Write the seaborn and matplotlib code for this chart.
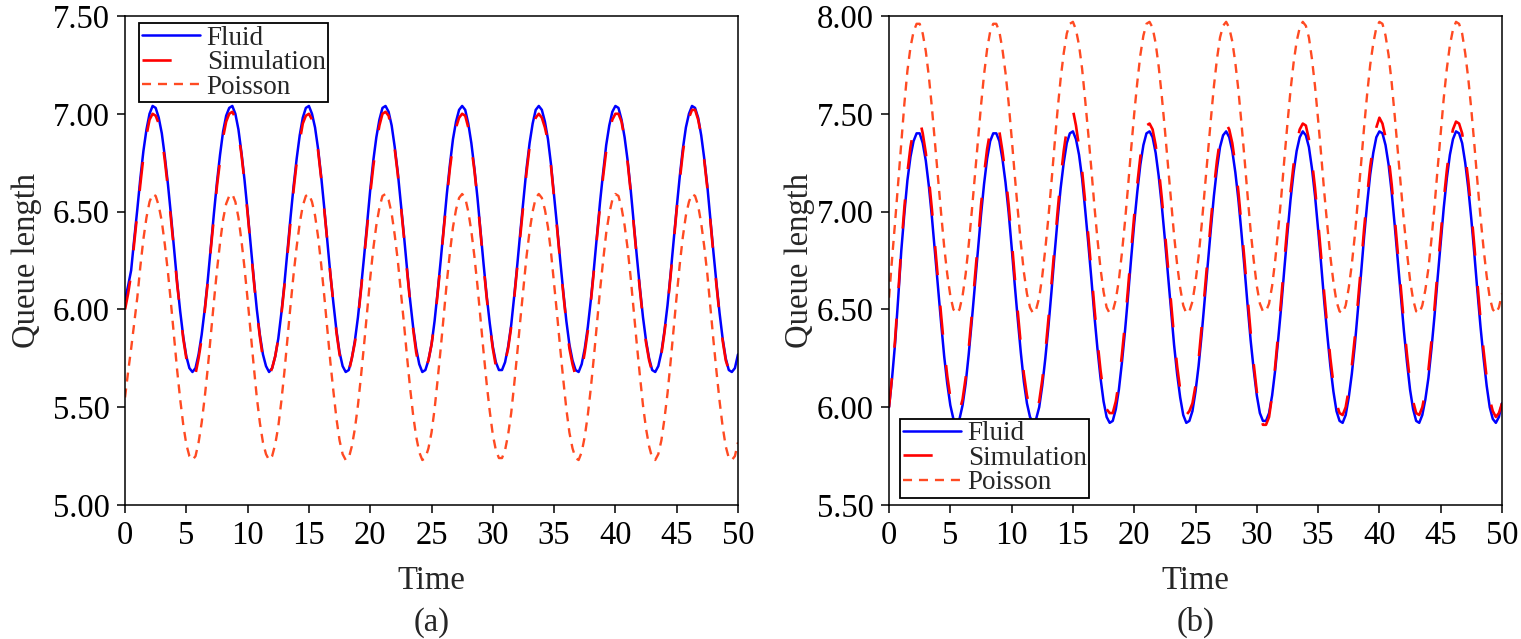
import numpy as np
import matplotlib
matplotlib.use("Agg")
import matplotlib.pyplot as plt
import seaborn as sns

sns.set_theme(style='ticks')
plt.rcParams['font.family'] = ['Liberation Serif', 'DejaVu Serif']
plt.rcParams['lines.scale_dashes'] = False

# sample times (every 0.25 time units)
time = np.linspace(0, 50, 201)

# panel (a)
fluid_a = [6.05, 6.12, 6.20, 6.36, 6.51, 6.67, 6.81, 6.92, 7.00, 7.04,
           7.03, 6.98, 6.90, 6.78, 6.64, 6.48, 6.31, 6.14, 5.99, 5.86,
           5.76, 5.70, 5.68, 5.70, 5.77, 5.87, 6.00, 6.15, 6.32, 6.49,
           6.65, 6.79, 6.91, 6.99, 7.03, 7.04, 7.00, 6.92, 6.80, 6.66,
           6.50, 6.33, 6.16, 6.00, 5.87, 5.77, 5.71, 5.68, 5.70, 5.76,
           5.85, 5.98, 6.13, 6.30, 6.47, 6.63, 6.77, 6.89, 6.98, 7.03,
           7.04, 7.00, 6.93, 6.82, 6.68, 6.52, 6.35, 6.18, 6.03, 5.89,
           5.78, 5.71, 5.68, 5.69, 5.75, 5.84, 5.96, 6.11, 6.27, 6.44,
           6.61, 6.76, 6.88, 6.97, 7.03, 7.04, 7.01, 6.94, 6.83, 6.70,
           6.54, 6.38, 6.21, 6.05, 5.91, 5.80, 5.72, 5.68, 5.69, 5.74,
           5.82, 5.94, 6.09, 6.25, 6.42, 6.59, 6.74, 6.87, 6.96, 7.02,
           7.04, 7.02, 6.95, 6.85, 6.72, 6.57, 6.40, 6.23, 6.07, 5.93,
           5.81, 5.73, 5.69, 5.69, 5.73, 5.81, 5.92, 6.07, 6.23, 6.40,
           6.56, 6.72, 6.85, 6.95, 7.02, 7.04, 7.02, 6.96, 6.87, 6.74,
           6.58, 6.42, 6.25, 6.09, 5.94, 5.82, 5.74, 5.69, 5.68, 5.72,
           5.80, 5.91, 6.05, 6.21, 6.38, 6.55, 6.70, 6.84, 6.94, 7.01,
           7.04, 7.03, 6.97, 6.88, 6.76, 6.61, 6.44, 6.27, 6.11, 5.96,
           5.84, 5.75, 5.69, 5.68, 5.71, 5.78, 5.89, 6.02, 6.18, 6.35,
           6.52, 6.68, 6.82, 6.93, 7.00, 7.04, 7.03, 6.98, 6.89, 6.77,
           6.63, 6.46, 6.29, 6.13, 5.98, 5.85, 5.75, 5.69, 5.68, 5.70,
           5.77]
sim_a = [6.00, 6.08, 6.18, 6.34, 6.49, 6.64, 6.78, 6.89, 6.97, 7.00,
         6.99, 6.95, 6.88, 6.76, 6.62, 6.46, 6.30, 6.13, 5.99, 5.85,
         5.75, 5.67, 5.64, 5.67, 5.75, 5.85, 5.99, 6.14, 6.31, 6.47,
         6.63, 6.76, 6.88, 6.96, 7.00, 7.01, 6.98, 6.90, 6.79, 6.65,
         6.49, 6.32, 6.15, 5.99, 5.86, 5.75, 5.68, 5.66, 5.70, 5.76,
         5.85, 5.97, 6.12, 6.28, 6.45, 6.61, 6.75, 6.86, 6.95, 6.99,
         7.00, 6.97, 6.92, 6.81, 6.67, 6.51, 6.35, 6.18, 6.03, 5.88,
         5.77, 5.69, 5.66, 5.68, 5.75, 5.83, 5.95, 6.10, 6.26, 6.42,
         6.59, 6.73, 6.85, 6.94, 7.00, 7.01, 6.99, 6.92, 6.82, 6.69,
         6.53, 6.37, 6.20, 6.04, 5.90, 5.78, 5.70, 5.67, 5.69, 5.74,
         5.82, 5.93, 6.08, 6.24, 6.41, 6.57, 6.72, 6.84, 6.93, 6.98,
         7.00, 6.99, 6.93, 6.83, 6.71, 6.56, 6.39, 6.22, 6.06, 5.92,
         5.80, 5.71, 5.67, 5.68, 5.73, 5.80, 5.91, 6.06, 6.22, 6.38,
         6.54, 6.70, 6.83, 6.92, 6.98, 7.00, 6.98, 6.93, 6.86, 6.73,
         6.57, 6.41, 6.24, 6.08, 5.93, 5.80, 5.72, 5.66, 5.64, 5.69,
         5.78, 5.89, 6.04, 6.20, 6.37, 6.53, 6.68, 6.81, 6.91, 6.97,
         7.00, 7.00, 6.96, 6.87, 6.75, 6.60, 6.43, 6.26, 6.10, 5.95,
         5.83, 5.74, 5.68, 5.67, 5.71, 5.77, 5.88, 6.01, 6.17, 6.34,
         6.51, 6.66, 6.80, 6.91, 6.98, 7.02, 7.02, 6.97, 6.89, 6.76,
         6.62, 6.45, 6.28, 6.12, 5.97, 5.84, 5.74, 5.69, 5.70, 5.71,
         5.77]
poisson_a = [5.55, 5.68, 5.80, 5.93, 6.06, 6.22, 6.36, 6.47, 6.55, 6.59,
             6.58, 6.53, 6.45, 6.33, 6.19, 6.03, 5.86, 5.69, 5.54, 5.41,
             5.31, 5.25, 5.23, 5.25, 5.32, 5.42, 5.55, 5.70, 5.87, 6.04,
             6.20, 6.34, 6.46, 6.54, 6.58, 6.59, 6.55, 6.47, 6.35, 6.21,
             6.05, 5.88, 5.71, 5.55, 5.42, 5.32, 5.26, 5.23, 5.25, 5.31,
             5.40, 5.53, 5.68, 5.85, 6.02, 6.18, 6.32, 6.44, 6.53, 6.58,
             6.59, 6.55, 6.48, 6.37, 6.23, 6.07, 5.90, 5.73, 5.58, 5.44,
             5.33, 5.26, 5.23, 5.24, 5.30, 5.39, 5.51, 5.66, 5.82, 5.99,
             6.16, 6.31, 6.43, 6.52, 6.58, 6.59, 6.56, 6.49, 6.38, 6.25,
             6.09, 5.93, 5.76, 5.60, 5.46, 5.35, 5.27, 5.23, 5.24, 5.29,
             5.37, 5.49, 5.64, 5.80, 5.97, 6.14, 6.29, 6.42, 6.51, 6.57,
             6.59, 6.57, 6.50, 6.40, 6.27, 6.12, 5.95, 5.78, 5.62, 5.48,
             5.36, 5.28, 5.24, 5.24, 5.28, 5.36, 5.47, 5.62, 5.78, 5.95,
             6.11, 6.27, 6.40, 6.50, 6.57, 6.59, 6.57, 6.51, 6.42, 6.29,
             6.13, 5.97, 5.80, 5.64, 5.49, 5.37, 5.29, 5.24, 5.23, 5.27,
             5.35, 5.46, 5.60, 5.76, 5.93, 6.10, 6.25, 6.39, 6.49, 6.56,
             6.59, 6.58, 6.52, 6.43, 6.31, 6.16, 5.99, 5.82, 5.66, 5.51,
             5.39, 5.30, 5.24, 5.23, 5.26, 5.33, 5.44, 5.57, 5.73, 5.90,
             6.07, 6.23, 6.37, 6.48, 6.55, 6.59, 6.58, 6.53, 6.44, 6.32,
             6.18, 6.01, 5.84, 5.68, 5.53, 5.40, 5.30, 5.24, 5.23, 5.25,
             5.32]

# panel (b)
fluid_b = [6.00, 6.15, 6.33, 6.56, 6.80, 6.99, 7.16, 7.28, 7.36, 7.40,
           7.40, 7.35, 7.26, 7.13, 6.97, 6.79, 6.61, 6.43, 6.26, 6.12,
           6.01, 5.94, 5.92, 5.94, 6.01, 6.12, 6.27, 6.44, 6.62, 6.80,
           6.98, 7.14, 7.27, 7.36, 7.40, 7.40, 7.36, 7.27, 7.15, 7.00,
           6.82, 6.63, 6.45, 6.28, 6.13, 6.02, 5.95, 5.92, 5.94, 6.00,
           6.11, 6.25, 6.41, 6.59, 6.78, 6.96, 7.12, 7.25, 7.35, 7.40,
           7.41, 7.37, 7.29, 7.17, 7.01, 6.84, 6.66, 6.47, 6.30, 6.15,
           6.03, 5.95, 5.92, 5.93, 5.99, 6.09, 6.23, 6.39, 6.57, 6.76,
           6.94, 7.10, 7.24, 7.34, 7.40, 7.41, 7.38, 7.30, 7.18, 7.03,
           6.86, 6.68, 6.50, 6.32, 6.17, 6.05, 5.96, 5.92, 5.93, 5.98,
           6.08, 6.21, 6.37, 6.55, 6.73, 6.91, 7.08, 7.22, 7.33, 7.39,
           7.41, 7.38, 7.31, 7.20, 7.06, 6.89, 6.71, 6.52, 6.34, 6.19,
           6.06, 5.97, 5.93, 5.93, 5.97, 6.06, 6.19, 6.35, 6.52, 6.71,
           6.89, 7.06, 7.20, 7.31, 7.38, 7.41, 7.39, 7.33, 7.22, 7.08,
           6.91, 6.73, 6.54, 6.37, 6.21, 6.08, 5.98, 5.93, 5.92, 5.96,
           6.05, 6.17, 6.32, 6.50, 6.68, 6.87, 7.04, 7.19, 7.30, 7.38,
           7.41, 7.40, 7.34, 7.24, 7.10, 6.93, 6.75, 6.57, 6.39, 6.23,
           6.09, 5.99, 5.93, 5.92, 5.96, 6.04, 6.15, 6.30, 6.47, 6.66,
           6.84, 7.02, 7.17, 7.29, 7.37, 7.41, 7.40, 7.35, 7.25, 7.12,
           6.96, 6.78, 6.59, 6.41, 6.25, 6.11, 6.00, 5.94, 5.92, 5.95,
           6.02]
sim_b = [6.00, 6.16, 6.35, 6.58, 6.82, 7.02, 7.20, 7.33, 7.42, 7.44,
         7.47, 7.40, 7.30, 7.17, 7.01, 6.83, 6.65, 6.47, 6.30, 6.16,
         6.05, 5.99, 5.97, 5.98, 6.04, 6.15, 6.30, 6.47, 6.66, 6.84,
         7.03, 7.19, 7.32, 7.41, 7.46, 7.45, 7.41, 7.31, 7.19, 7.04,
         6.86, 6.67, 6.49, 6.32, 6.17, 6.06, 5.99, 5.96, 5.98, 6.03,
         6.14, 6.28, 6.45, 6.63, 6.82, 7.00, 7.17, 7.31, 7.42, 7.47,
         7.52, 7.44, 7.33, 7.21, 7.05, 6.88, 6.70, 6.51, 6.34, 6.19,
         6.07, 5.99, 5.97, 5.97, 6.03, 6.13, 6.27, 6.43, 6.61, 6.80,
         6.98, 7.14, 7.28, 7.38, 7.44, 7.45, 7.42, 7.34, 7.22, 7.07,
         6.90, 6.72, 6.54, 6.36, 6.21, 6.09, 6.00, 5.96, 5.98, 6.02,
         6.11, 6.24, 6.41, 6.59, 6.77, 6.95, 7.12, 7.26, 7.37, 7.43,
         7.45, 7.42, 7.35, 7.24, 7.10, 6.93, 6.75, 6.56, 6.38, 6.22,
         6.08, 5.97, 5.91, 5.91, 5.95, 6.06, 6.21, 6.38, 6.56, 6.75,
         6.93, 7.10, 7.24, 7.35, 7.42, 7.45, 7.44, 7.37, 7.26, 7.12,
         6.95, 6.77, 6.58, 6.41, 6.25, 6.12, 6.02, 5.97, 5.96, 6.00,
         6.09, 6.21, 6.36, 6.54, 6.72, 6.91, 7.08, 7.23, 7.34, 7.43,
         7.48, 7.45, 7.38, 7.28, 7.14, 6.97, 6.79, 6.61, 6.43, 6.27,
         6.13, 6.03, 5.97, 5.96, 6.00, 6.08, 6.19, 6.34, 6.51, 6.70,
         6.88, 7.06, 7.21, 7.34, 7.42, 7.46, 7.45, 7.40, 7.29, 7.16,
         7.00, 6.82, 6.63, 6.45, 6.29, 6.15, 6.04, 5.98, 5.95, 5.97,
         6.02]
poisson_b = [6.56, 6.76, 6.95, 7.15, 7.35, 7.55, 7.72, 7.84, 7.92, 7.96,
             7.96, 7.91, 7.82, 7.69, 7.53, 7.35, 7.17, 6.99, 6.82, 6.68,
             6.57, 6.50, 6.48, 6.50, 6.57, 6.68, 6.83, 7.00, 7.18, 7.36,
             7.54, 7.70, 7.83, 7.92, 7.96, 7.96, 7.92, 7.83, 7.71, 7.56,
             7.38, 7.19, 7.01, 6.84, 6.69, 6.58, 6.51, 6.48, 6.50, 6.56,
             6.67, 6.81, 6.97, 7.15, 7.34, 7.52, 7.68, 7.81, 7.91, 7.96,
             7.97, 7.93, 7.85, 7.73, 7.57, 7.40, 7.22, 7.03, 6.86, 6.71,
             6.59, 6.51, 6.48, 6.49, 6.55, 6.65, 6.79, 6.95, 7.13, 7.32,
             7.50, 7.66, 7.80, 7.90, 7.96, 7.97, 7.94, 7.86, 7.74, 7.59,
             7.42, 7.24, 7.06, 6.88, 6.73, 6.61, 6.52, 6.48, 6.49, 6.54,
             6.64, 6.77, 6.93, 7.11, 7.29, 7.47, 7.64, 7.78, 7.89, 7.95,
             7.97, 7.94, 7.87, 7.76, 7.62, 7.45, 7.27, 7.08, 6.90, 6.75,
             6.62, 6.53, 6.49, 6.49, 6.53, 6.62, 6.75, 6.91, 7.08, 7.27,
             7.45, 7.62, 7.76, 7.87, 7.94, 7.97, 7.95, 7.89, 7.78, 7.64,
             7.47, 7.29, 7.10, 6.93, 6.77, 6.64, 6.54, 6.49, 6.48, 6.52,
             6.61, 6.73, 6.88, 7.06, 7.24, 7.43, 7.60, 7.75, 7.86, 7.94,
             7.97, 7.96, 7.90, 7.80, 7.66, 7.49, 7.31, 7.13, 6.95, 6.79,
             6.65, 6.55, 6.49, 6.48, 6.52, 6.60, 6.71, 6.86, 7.03, 7.22,
             7.40, 7.58, 7.73, 7.85, 7.93, 7.97, 7.96, 7.91, 7.81, 7.68,
             7.52, 7.34, 7.15, 6.97, 6.81, 6.67, 6.56, 6.50, 6.48, 6.51,
             6.58]

x_ticks = [0, 5, 10, 15, 20, 25, 30, 35, 40, 45, 50]
y_ticks_a = [5.00, 5.50, 6.00, 6.50, 7.00, 7.50]
y_ticks_b = [5.50, 6.00, 6.50, 7.00, 7.50, 8.00]

FLUID_C = '#0000ff'
SIM_C = '#ff0000'
POIS_C = '#ff4a22'

fig = plt.figure(figsize=(15.21, 6.39), dpi=100)
ax_a = fig.add_axes([0.0822, 0.2097, 0.4030, 0.7653])
ax_b = fig.add_axes([0.5845, 0.2097, 0.4030, 0.7653])


def draw_panel(ax, fluid, sim, pois, yticks, leg_loc, leg_anchor, ylab_x, tag):
    sns.lineplot(x=time, y=fluid, ax=ax, color=FLUID_C, lw=1.8, label='Fluid')
    sns.lineplot(x=time, y=sim, ax=ax, color=SIM_C, lw=1.9,
                 linestyle=(0, (21, 22)), label='Simulation')
    sns.lineplot(x=time, y=pois, ax=ax, color=POIS_C, lw=1.7,
                 linestyle=(0, (6.5, 5)), label='Poisson')
    ax.set_xlim(0, 50)
    ax.set_ylim(yticks[0], yticks[-1])
    ax.set_xticks(x_ticks)
    ax.set_yticks(yticks)
    ax.set_yticklabels([f'{v:.2f}' for v in yticks])
    ax.tick_params(direction='out', length=6, width=1.1, pad=5,
                   labelsize=23.5, colors='black')
    for sp in ax.spines.values():
        sp.set_visible(True)
        sp.set_linewidth(1.1)
        sp.set_color('black')
    ax.set_xlabel('Time', fontsize=23.5)
    ax.set_ylabel('Queue length', fontsize=23.5)
    ax.xaxis.set_label_coords(0.5, -0.123)
    ax.yaxis.set_label_coords(ylab_x, 0.5)
    ax.text(0.5, -0.24, tag, transform=ax.transAxes, ha='center', va='center',
            fontsize=23.5)
    leg = ax.legend(loc=leg_loc, bbox_to_anchor=leg_anchor, fontsize=19.5,
                    frameon=True, fancybox=False, framealpha=1,
                    edgecolor='black', handlelength=2.15, handletextpad=0.25,
                    labelspacing=-0.02, borderpad=0.1, borderaxespad=0)
    leg.get_frame().set_linewidth(1.3)


draw_panel(ax_a, fluid_a, sim_a, poisson_a, y_ticks_a,
           'upper left', (0.0228, 0.9857), -0.135, '(a)')
draw_panel(ax_b, fluid_b, sim_b, poisson_b, y_ticks_b,
           'lower left', (0.018, 0.0143), -0.121, '(b)')

fig.savefig('out.png', dpi=100)
